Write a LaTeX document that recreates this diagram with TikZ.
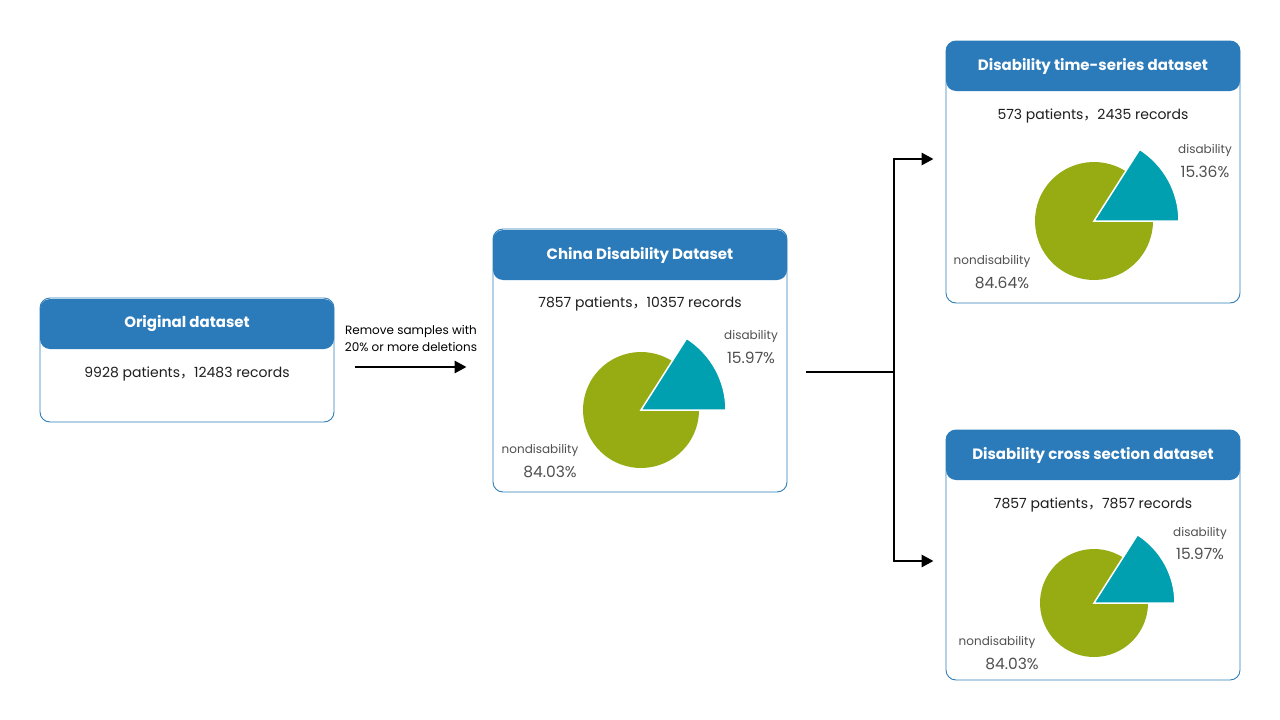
\documentclass[tikz,border=0pt]{standalone}
\usepackage{fontspec}
\setmainfont{Poppins}
\newfontfamily\cjk{Noto Sans CJK SC}
\usetikzlibrary{arrows.meta}
\definecolor{hdrblue}{HTML}{2B7BBA}
\definecolor{boxline}{HTML}{2E7DB8}
\definecolor{piegreen}{HTML}{97AB12}
\definecolor{pieteal}{HTML}{00A0B0}
\definecolor{txt}{HTML}{1E1E1E}
\definecolor{lbl}{HTML}{505050}
\newcommand{\cm}{{\cjk ，}}
\tikzset{
  dbox/.style={draw=boxline, line width=0.9pt, rounded corners=10pt, fill=white, inner sep=0pt},
  hbox/.style={fill=hdrblue, rounded corners=10pt, text=white, font=\fontsize{15}{17}\selectfont\bfseries, inner sep=0pt},
  sub/.style={text=txt, font=\fontsize{14}{16}\selectfont, inner sep=0pt},
  lab/.style={text=lbl, font=\fontsize{12}{14}\selectfont, inner sep=0pt},
  pct/.style={text=lbl, font=\fontsize{15.5}{17}\selectfont, inner sep=0pt},
  note/.style={text=black, font=\fontsize{12}{17}\selectfont, inner sep=0pt, align=center},
  conn/.style={line width=2.8pt, black},
  arr/.style={conn, -{Triangle[length=12pt,width=12pt]}},
}
\newcommand{\pie}[3]{% center, green radius, teal radius
  \fill[piegreen] (#1) -- ++(57.5:#2) arc[start angle=57.5, end angle=360, radius=#2] -- cycle;
  \fill[pieteal, draw=white, line width=1.5pt, line join=miter] (#1) -- ++(0:#3) arc[start angle=0, end angle=57.5, radius=#3] -- cycle;
}
\begin{document}
\begin{tikzpicture}[x=1pt,y=-1pt]
\useasboundingbox (0,0) rectangle (1280,720);
\fill[white] (0,0) rectangle (1280,720);

% Original dataset
\node[dbox, minimum width=294pt, minimum height=124pt] (orig) at (187,360) {};
\node[hbox, minimum width=294pt, minimum height=50pt] (origh) at (187,324) {Original dataset};
\node[sub] (origs) at (187,374) {9928 patients\cm 12483 records};

% China
\node[dbox, minimum width=294pt, minimum height=263pt] (china) at (640,360.5) {};
\node[hbox, minimum width=294pt, minimum height=50pt] (chinah) at (640,255) {China Disability Dataset};
\node[sub] (chinas) at (640,304) {7857 patients\cm 10357 records};
\coordinate (pc1) at (641,410);
\pie{pc1}{58pt}{85pt}
\node[lab] (cl1) at (751,336) {disability};
\node[pct] (cp1) at (751,358) {15.97\%};
\node[lab] (cl2) at (540,450) {nondisability};
\node[pct] (cp2) at (550,472) {84.03\%};

% Time-series
\node[dbox, minimum width=294pt, minimum height=262pt] (ts) at (1093,172) {};
\node[hbox, minimum width=294pt, minimum height=50pt] (tsh) at (1093,66) {Disability time-series dataset};
\node[sub] (tss) at (1093,116) {573 patients\cm 2435 records};
\coordinate (pc2) at (1094,221);
\pie{pc2}{59pt}{85pt}
\node[lab] (tl1) at (1205,150) {disability};
\node[pct] (tp1) at (1205,172) {15.36\%};
\node[lab] (tl2) at (992,261) {nondisability};
\node[pct] (tp2) at (1002,283) {84.64\%};

% Cross section
\node[dbox, minimum width=294pt, minimum height=250pt] (cs) at (1093,555) {};
\node[hbox, minimum width=294pt, minimum height=50pt] (csh) at (1093,455) {Disability cross section dataset};
\node[sub] (css) at (1093,505) {7857 patients\cm 7857 records};
\coordinate (pc3) at (1094,603);
\pie{pc3}{54pt}{81pt}
\node[lab] (sl1) at (1200,533) {disability};
\node[pct] (sp1) at (1200,554) {15.97\%};
\node[lab] (sl2) at (997,642) {nondisability};
\node[pct] (sp2) at (1012,664) {84.03\%};

% connectors
\node[note] (rm) at (411,339) {Remove samples with\\20\% or more deletions};
\coordinate (a1) at (orig.east |- 0,367);
\coordinate (a2) at (china.west |- 0,367);
\draw[arr, shorten <=21pt, shorten >=26pt] (a1) -- (a2);

\coordinate (b0) at (china.east |- 0,372);
\coordinate (split) at (894,372);
\coordinate (t1) at (ts.west |- 0,159);
\coordinate (t2) at (cs.west |- 0,561);
\draw[conn, shorten <=19pt] (b0) -- (split);
\draw[arr, shorten >=12pt] (split) |- (t1);
\draw[arr, shorten >=12pt] (split) |- (t2);
\end{tikzpicture}
\end{document}
